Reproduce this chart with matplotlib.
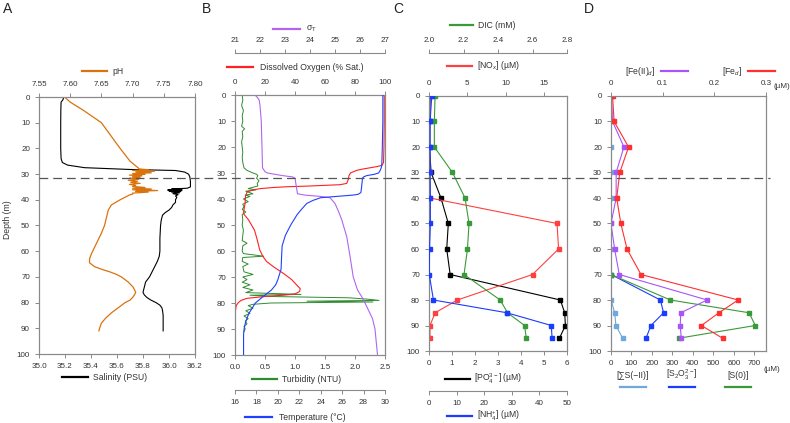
import matplotlib
matplotlib.use("Agg")
import numpy as np
import matplotlib.pyplot as plt
from matplotlib.lines import Line2D

plt.rcParams["font.family"] = ["Liberation Sans", "DejaVu Sans"]
plt.rcParams["mathtext.fontset"] = "custom"
plt.rcParams["mathtext.rm"] = "Liberation Sans"
plt.rcParams["mathtext.it"] = "Liberation Sans:italic"
plt.rcParams["mathtext.fallback"] = "stixsans"

# ---------------- Panel A : CTD salinity and pH ----------------
sal_depth = [0, 1, 2, 5, 10, 15, 20, 24, 25.5, 26.5, 27.5, 28.2, 28.6, 29.2, 30, 31, 33, 35,
             35.5, 35.8, 36.0, 36.2, 36.4, 36.6, 36.8, 37.0, 37.3, 37.6, 38.0, 38.5, 39, 40,
             41, 42, 43, 44, 45, 46, 48, 50, 55, 60, 62, 64, 66, 68, 70, 72, 74, 76, 77, 78,
             79, 80, 81, 82, 83, 85, 91]
salinity = [35.19, 35.185, 35.17, 35.168, 35.167, 35.167, 35.167, 35.17, 35.18, 35.22, 35.35,
            35.7, 36.05, 36.12, 36.15, 36.16, 36.165, 36.165, 36.14, 36.02, 36.1, 35.99, 36.1,
            36.0, 36.09, 36.02, 36.08, 36.03, 36.07, 36.05, 36.06, 36.05, 36.05, 36.03, 36.02,
            36.0, 35.97, 35.95, 35.94, 35.935, 35.93, 35.93, 35.925, 35.91, 35.89, 35.87, 35.85,
            35.82, 35.81, 35.8, 35.81, 35.83, 35.86, 35.9, 35.93, 35.945, 35.95, 35.955, 35.955]

ph_depth = [0, 2, 5, 8, 10, 12, 14, 20, 25, 28.0, 28.3, 28.6, 28.9, 29.2, 29.5, 29.8, 30.1,
            30.4, 30.7, 31, 31.3, 31.6, 32, 32.4, 32.8, 33.2, 33.6, 34, 34.4, 34.8, 35.2, 35.5,
            35.8, 36.1, 36.4, 36.7, 37, 37.4, 37.8, 38, 39, 40, 42, 44, 46, 48, 50, 53, 55, 57,
            59, 61, 63, 64.5, 66, 67, 68, 69, 70, 72, 74, 76, 77, 78, 79, 80, 82, 84, 86, 88,
            90, 91]
ph = [7.591, 7.60, 7.62, 7.638, 7.65, 7.656, 7.662, 7.68, 7.696, 7.711, 7.725, 7.700, 7.735,
      7.705, 7.73, 7.70, 7.72, 7.695, 7.715, 7.70, 7.712, 7.695, 7.71, 7.693, 7.708, 7.697,
      7.712, 7.695, 7.705, 7.70, 7.72, 7.70, 7.73, 7.70, 7.74, 7.705, 7.725, 7.70, 7.70,
      7.696, 7.688, 7.68, 7.666, 7.661, 7.659, 7.657, 7.655, 7.65, 7.646, 7.642, 7.638,
      7.634, 7.631, 7.631, 7.639, 7.65, 7.663, 7.674, 7.682, 7.693, 7.701, 7.705, 7.703,
      7.70, 7.696, 7.688, 7.677, 7.666, 7.657, 7.65, 7.647, 7.646]

# ---------------- Panel B : turbidity, temperature, oxygen, sigma-T ----------------
turb_depth = [0, 2, 4, 6, 8, 10, 12, 13, 14, 16, 18, 20, 22, 24, 26, 28, 29, 30, 30.5, 31, 32,
              33, 34, 35, 35.5, 36, 36.5, 37, 38, 38.5, 39, 40, 41, 42, 43, 44, 45, 46, 48, 50,
              52, 54, 56, 57, 58, 60, 61, 62, 62.5, 64, 65, 66, 68, 69, 70, 71, 72, 73, 74, 75,
              76, 76.7, 77, 77.5, 78, 78.5, 79, 79.3, 79.6, 80, 80.5, 81, 82, 83, 84, 85, 86,
              87, 88, 89, 90, 91]
turbidity = [0.12, 0.13, 0.11, 0.14, 0.12, 0.13, 0.11, 0.16, 0.12, 0.13, 0.11, 0.12, 0.13,
             0.12, 0.13, 0.15, 0.2, 0.3, 0.36, 0.38, 0.36, 0.4, 0.37, 0.38, 0.3, 0.22, 0.35,
             0.18, 0.3, 0.17, 0.25, 0.14, 0.22, 0.13, 0.15, 0.12, 0.18, 0.12, 0.13, 0.12, 0.14,
             0.13, 0.12, 0.2, 0.13, 0.12, 0.14, 0.48, 0.13, 0.12, 0.22, 0.13, 0.15, 0.3, 0.13,
             0.2, 0.12, 0.25, 0.13, 0.3, 0.18, 1.1, 0.25, 0.6, 1.9, 2.2, 2.4, 1.2, 2.3, 0.6,
             0.3, 0.22, 0.3, 0.18, 0.25, 0.15, 0.22, 0.17, 0.2, 0.15, 0.17, 0.15]

temp_depth = [0, 10, 20, 27, 28, 29, 30, 30.5, 31, 31.5, 32, 34, 36, 37.5, 38.2, 38.5, 39,
              39.5, 40.5, 41.7, 44, 46, 50, 54, 58, 62, 67, 71, 73, 75, 77.6, 80, 82, 84, 86,
              88, 90, 92, 100]
temperature = [29.8, 29.8, 29.75, 29.7, 29.65, 29.55, 29.4, 29.0, 28.3, 28.0, 27.9, 27.85,
               27.8, 27.75, 27.5, 27.0, 25.5, 24.0, 23.3, 22.7, 22.2, 21.8, 21.2, 20.7, 20.4,
               20.35, 20.3, 20.0, 19.8, 19.4, 18.6, 17.9, 17.6, 17.3, 17.1, 16.95, 16.85, 16.8,
               16.8]

do_depth = [0, 10, 20, 26, 27, 27.5, 28, 28.5, 29, 30, 31, 32.5, 34, 34.5, 35, 35.3, 35.6, 36,
            36.5, 37.3, 39, 41.7, 45.6, 48, 50, 52, 55, 59.6, 62, 64, 66, 68.5, 71, 73, 74.5,
            75.6, 76.5, 77, 77.5, 78.2, 79, 80, 81, 83, 91]
oxygen = [99.5, 99.5, 99.3, 99.0, 98, 95, 90, 85, 81, 77, 76, 75.5, 74.5, 70, 50, 34, 25, 17,
          12, 8, 7, 6.7, 5.6, 9, 11, 13, 14.5, 16.5, 18.5, 21, 25.5, 32, 37.8, 41, 43.5, 43,
          40, 32, 20, 8, 4, 2, 0.8, 0.3, 0.3]

sig_depth = [0, 1, 2, 4, 10, 20, 28, 29.5, 30, 31, 31.5, 32, 35, 38, 38.5, 39, 39.5, 41.7, 45,
             48, 54.5, 62, 70, 75, 77.6, 80, 83, 86, 88, 90, 95, 100]
sigma_t = [21.8, 21.9, 21.97, 22.0, 22.05, 22.08, 22.1, 22.2, 22.3, 22.9, 23.3, 23.4, 23.45,
           23.5, 23.8, 24.4, 24.8, 25.0, 25.15, 25.27, 25.47, 25.6, 25.73, 25.9, 26.07, 26.2,
           26.35, 26.5, 26.55, 26.6, 26.65, 26.7]

# ---------------- Panel C : nutrients and DIC (bottle samples) ----------------
bottle_depth = [0, 10, 20, 30, 40, 50, 60, 70, 80, 85, 90, 95]
po4 = [0.05, 0.03, 0.02, 0.09, 0.52, 0.84, 0.77, 0.92, 5.71, 5.90, 5.93, 5.67]
nh4 = [1.0, 0.4, 0.4, 0.4, 0.5, 0.5, 0.2, 0.1, 1.6, 28.2, 44.3, 44.6]
nox = [0.1, 0.1, 0.1, 0.1, 0.13, 16.7, 16.9, 13.5, 3.7, 0.8, 0.13, 0.13]
dic = [2.035, 2.031, 2.031, 2.136, 2.209, 2.232, 2.223, 2.203, 2.413, 2.455, 2.554, 2.564]

# ---------------- Panel D : iron and sulfur species ----------------
fe_d = [0.003, 0.006, 0.034, 0.017, 0.011, 0.019, 0.031, 0.058, 0.246, 0.209, 0.175, 0.216]
fe2_d = [0.001, 0.003, 0.025, 0.010, 0.010, 0.0, 0.007, 0.016, 0.186, 0.135, 0.134, 0.136]
sulfide = [0, 0, 0, 0, 0, 0, 0, 0, 0, 18, 24, 57]
deep_depth = [70, 80, 85, 90, 95]
thiosulfate = [0, 241, 257, 195, 171]
sulfur0 = [0, 290, 674, 705, 330]

GRAY = "#8a8a8a"
TXT = "#333333"
TICK_FS = 5.8
KEY_FS = 6.2
W, H = 790, 423

fig = plt.figure(figsize=(W / 100, H / 100), dpi=100)


def px_axes(l, r, t, b):
    return fig.add_axes([l / W, 1 - b / H, (r - l) / W, (b - t) / H])


def style(ax):
    for s in ax.spines.values():
        s.set_color(GRAY)
        s.set_linewidth(0.8)
    ax.tick_params(colors=GRAY, labelcolor=TXT, labelsize=TICK_FS, length=3, width=0.7)


def depth_axis(ax):
    ax.set_ylim(100, 0)
    ax.set_yticks(np.arange(0, 101, 10))
    style(ax)


def offset_axis(ax, side, pts):
    tw = ax.twiny()
    tw.patch.set_visible(False)
    for name, s in tw.spines.items():
        s.set_visible(name == side)
    tw.xaxis.set_ticks_position(side)
    tw.xaxis.set_label_position(side)
    tw.spines[side].set_position(("outward", pts))
    style(tw)
    return tw


def key(x0, x1, y, color, label, tx, ha="left"):
    fig.add_artist(Line2D([x0 / W, x1 / W], [1 - y / H] * 2, color=color, lw=1.6,
                          transform=fig.transFigure))
    fig.text(tx / W, 1 - y / H, label, ha=ha, va="center", fontsize=KEY_FS, color=TXT)


# -----------------------------
# A
# -----------------------------
axA = px_axes(39, 195, 97, 354)
depth_axis(axA)
axA.plot(salinity, sal_depth, color="black", lw=0.8)
axA.set_xlim(35.0, 36.2)
axA.set_xticks(np.arange(35.0, 36.21, 0.2))
axA.set_xticklabels([f"{v:.1f}" for v in np.arange(35.0, 36.21, 0.2)])
axA2 = axA.twiny()
style(axA2)
axA2.plot(ph, ph_depth, color="#d9730d", lw=0.9)
axA2.set_xlim(7.55, 7.80)
axA2.set_xticks(np.arange(7.55, 7.801, 0.05))
axA2.set_xticklabels([f"{v:.2f}" for v in np.arange(7.55, 7.801, 0.05)])
key(82, 107, 71, "#d9730d", "pH", 112)
key(62, 88, 377, "black", "Salinity (PSU)", 93)
fig.text(8 / W, 1 - 220 / H, "Depth (m)", rotation=90, ha="center", va="center",
         fontsize=KEY_FS, color=TXT)

# -----------------------------
# B
# -----------------------------
axB = px_axes(235, 385, 95, 355)
depth_axis(axB)
axB.plot(turbidity, turb_depth, color="#2e8b2e", lw=0.7)
axB.set_xlim(0, 2.5)
axB.set_xticks(np.arange(0, 2.51, 0.5))
axB.set_xticklabels([f"{v:.1f}" for v in np.arange(0, 2.51, 0.5)])
axB_do = axB.twiny()
style(axB_do)
axB_do.plot(oxygen, do_depth, color="#ff2020", lw=0.8)
axB_do.set_xlim(0, 100)
axB_do.set_xticks(np.arange(0, 101, 20))
axB_sig = offset_axis(axB, "top", 30)
axB_sig.plot(sigma_t, sig_depth, color="#b066f0", lw=0.8)
axB_sig.set_xlim(21, 27)
axB_sig.set_xticks(np.arange(21, 28, 1))
axB_t = offset_axis(axB, "bottom", 25)
axB_t.plot(temperature, temp_depth, color="#2040ff", lw=0.8)
axB_t.set_xlim(16, 30)
axB_t.set_xticks(np.arange(16, 31, 2))
key(273, 300, 29, "#b066f0", r"σ$_\mathrm{T}$", 306)
key(227, 253, 67, "#ff2020", "Dissolved Oxygen (% Sat.)", 260)
key(252, 277, 379, "#2e8b2e", "Turbidity (NTU)", 282)
key(245, 272, 417, "#2040ff", "Temperature (°C)", 279)

# -----------------------------
# C
# -----------------------------
mk = dict(marker="s", ms=2.2, lw=0.8)
axC = px_axes(429, 567, 96, 351)
depth_axis(axC)
axC.plot(po4, bottle_depth, color="black", **mk)
axC.set_xlim(0, 6)
axC.set_xticks(np.arange(0, 7, 1))
axC_nox = axC.twiny()
style(axC_nox)
axC_nox.plot(nox, bottle_depth, color="#ff4040", **mk)
axC_nox.set_xlim(0, 18)
axC_nox.set_xticks([0, 5, 10, 15])
axC_dic = offset_axis(axC, "top", 31)
axC_dic.plot(dic, bottle_depth, color="#3a9a3a", **mk)
axC_dic.set_xlim(2.0, 2.8)
axC_dic.set_xticks(np.arange(2.0, 2.81, 0.2))
axC_dic.set_xticklabels([f"{v:.1f}" for v in np.arange(2.0, 2.81, 0.2)])
axC_nh4 = offset_axis(axC, "bottom", 28.5)
axC_nh4.plot(nh4, bottle_depth, color="#1a3cff", **mk)
axC_nh4.set_xlim(0, 50)
axC_nh4.set_xticks(np.arange(0, 51, 10))
key(450, 473, 25, "#3a9a3a", "DIC (mM)", 478)
key(447, 472, 66, "#ff4040", r"[NO$_x$] (µM)", 477)
key(445, 470, 379, "black", r"[PO$_4^{3-}$] (µM)", 474)
key(447, 472, 416, "#1a3cff", r"[NH$_4^{+}$] (µM)", 477)

# -----------------------------
# D
# -----------------------------
axD = px_axes(611, 766, 96, 351)
depth_axis(axD)
axD.plot(sulfide, bottle_depth, color="#6fa8dc", **mk)
axD.plot(thiosulfate, deep_depth, color="#1a3cff", **mk)
axD.plot(sulfur0, deep_depth, color="#3a9a3a", **mk)
axD.set_xlim(0, 757)
axD.set_xticks(np.arange(0, 701, 100))
axD_fe = axD.twiny()
style(axD_fe)
axD_fe.plot(fe2_d, bottle_depth, color="#a855f7", **mk)
axD_fe.plot(fe_d, bottle_depth, color="#ff3030", **mk)
axD_fe.set_xlim(0, 0.3)
axD_fe.set_xticks([0, 0.1, 0.2, 0.3])
axD_fe.set_xticklabels(["0", "0.1", "0.2", "0.3"])
fig.text(774 / W, 1 - 87 / H, "(µM)", ha="left", va="center", fontsize=TICK_FS, color=TXT)
fig.text(772 / W, 1 - 369 / H, "(µM)", ha="center", va="center", fontsize=TICK_FS, color=TXT)
key(661, 688, 71, "#a855f7", r"[Fe(II)$_d$]", 655, ha="right")
key(748, 775, 71, "#ff3030", r"[Fe$_d$]", 742, ha="right")
for cx, col, lab in [(633, "#6fa8dc", "[∑S(−II)]"),
                     (682, "#1a3cff", r"[S$_2$O$_3^{2-}$]"),
                     (738, "#3a9a3a", "[S(0)]")]:
    key(cx - 13, cx + 13, 387, col, "", cx)
    fig.text(cx / W, 1 - 375 / H, lab, ha="center", va="center", fontsize=KEY_FS, color=TXT)

# chemocline marker across all panels
fig.add_artist(Line2D([39 / W, 770 / W], [1 - 178.5 / H] * 2, color="#555555", lw=0.9,
                      dashes=(7, 4), transform=fig.transFigure))

for x, letter in [(3, "A"), (202, "B"), (393, "C"), (584, "D")]:
    fig.text(x / W, 1 - 9 / H, letter, ha="left", va="center", fontsize=10, color="#222222")

fig.savefig("out.png", dpi=100)
